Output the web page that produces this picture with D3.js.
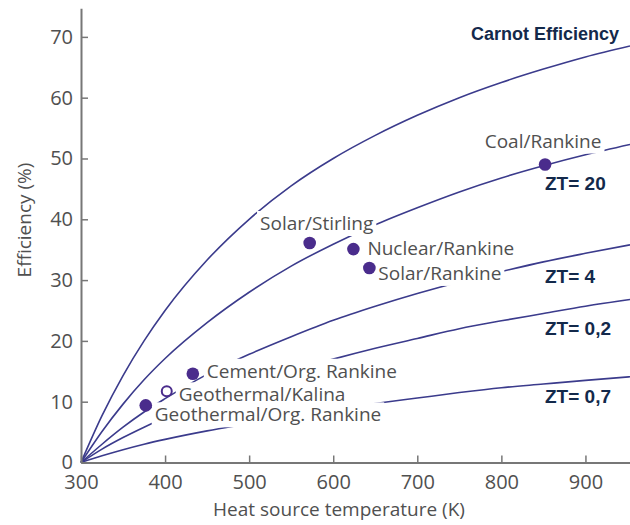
<!DOCTYPE html>
<html><head><meta charset="utf-8">
<script src="https://cdn.jsdelivr.net/npm/d3@7"></script>
<style>body{margin:0;background:#fff}</style>
</head><body>
<svg id="c" width="630" height="525"></svg>
<script>
// ---- data ----
const temps  = [300, 325, 350, 375, 400, 450, 500, 550, 600, 650, 700, 750, 800, 850, 900, 953];
const carnot = [0, 7.7, 14.3, 20.0, 25.0, 33.3, 40.0, 45.5, 50.0, 53.8, 57.1, 60.0, 62.5, 64.7, 66.7, 68.5];
const zt20   = [0, 5.1, 9.6, 13.6, 17.1, 23.0, 28.0, 32.3, 35.9, 39.1, 41.9, 44.5, 46.8, 48.8, 50.6, 52.3];
const zt4    = [0, 3.0, 5.8, 8.3, 10.5, 14.5, 17.8, 20.7, 23.4, 25.7, 27.8, 29.7, 31.4, 33.0, 34.4, 35.8];
const zt02   = [0, 2.2, 4.1, 5.8, 7.4, 10.2, 12.7, 15.0, 17.0, 18.8, 20.4, 22.0, 23.3, 24.5, 25.7, 26.8];
const zt07   = [0, 1.1, 2.1, 3.0, 3.8, 5.2, 6.4, 7.6, 8.7, 9.7, 10.6, 11.5, 12.3, 12.9, 13.5, 14.1];
const curveLabels = ["Carnot Efficiency", "ZT= 20", "ZT= 4", "ZT= 0,2", "ZT= 0,7"];

const pointNames  = ["Coal/Rankine", "Solar/Stirling", "Nuclear/Rankine", "Solar/Rankine",
                     "Cement/Org. Rankine", "Geothermal/Kalina", "Geothermal/Org. Rankine"];
const pointTemps  = [852, 572, 624, 643, 433, 402, 377];
const pointEffs   = [49.0, 36.1, 35.1, 32.0, 14.6, 11.7, 9.4];
const pointHollow = [false, false, false, false, false, true, false];

const xTicks = [300, 400, 500, 600, 700, 800, 900];
const yTicks = [0, 10, 20, 30, 40, 50, 60, 70];
const xTitle = "Heat source temperature (K)";
const yTitle = "Efficiency (%)";

// ---- layout ----
const svg = d3.select("#c");
const x = d3.scaleLinear().domain([300, 953]).range([81, 630]);
const y = d3.scaleLinear().domain([0, 74.7]).range([462.5, 8.3]);

const lineColor = "#3b3b8c", dotColor = "#4a2c8c", grayText = "#505050", navy = "#13294b";
const sans = "'Open Sans', 'Noto Sans', sans-serif";

// curves
const series = [carnot, zt20, zt4, zt02, zt07];
const line = d3.line().x((d, i) => x(temps[i])).y(d => y(d)).curve(d3.curveMonotoneX);
svg.append("g").selectAll("path").data(series).join("path")
  .attr("d", d => line(d)).attr("fill", "none")
  .attr("stroke", lineColor).attr("stroke-width", 1.6);

// axes
const ax = svg.append("g").attr("transform", `translate(0,${y(0)})`)
  .call(d3.axisBottom(x).tickValues(xTicks).tickSize(-7).tickSizeOuter(0).tickPadding(12.3));
const ay = svg.append("g").attr("transform", `translate(${x(300)},0)`)
  .call(d3.axisLeft(y).tickValues(yTicks).tickSize(-7).tickSizeOuter(0).tickPadding(8));
[ax, ay].forEach(g => {
  g.select(".domain").attr("stroke", "#777").attr("stroke-width", 2);
  g.selectAll(".tick line").attr("stroke", "#777").attr("stroke-width", 1.5);
  g.selectAll(".tick text").attr("fill", grayText).attr("font-family", sans).attr("font-size", 20);
});

// axis titles
svg.append("text").attr("x", 339).attr("y", 516).attr("text-anchor", "middle")
  .attr("font-family", sans).attr("font-size", 19).attr("fill", grayText).text(xTitle);
svg.append("text").attr("transform", "translate(31,220) rotate(-90)").attr("text-anchor", "middle")
  .attr("font-family", sans).attr("font-size", 19).attr("fill", grayText).text(yTitle);

// point labels with white backing (they break the curves like in the reference)
const labelOffsets = [[-2, -17, "middle"], [7, -13, "middle"], [14, 6, "start"], [9, 12, "start"],
                      [14, 4, "start"], [12, 10, "start"], [9, 16, "start"]];
const lg = svg.append("g");
pointNames.forEach((n, i) => {
  const o = labelOffsets[i];
  const g = lg.append("g");
  const t = g.append("text").attr("x", x(pointTemps[i]) + o[0]).attr("y", y(pointEffs[i]) + o[1])
    .attr("text-anchor", o[2]).attr("font-family", sans).attr("font-size", 19)
    .attr("fill", grayText).text(n);
  const b = t.node().getBBox();
  g.insert("rect", "text").attr("x", b.x - 3).attr("y", b.y + 1).attr("width", b.width + 6)
    .attr("height", b.height - 1).attr("fill", "#fff");
});

// curve labels
const curveLabelPos = [[619, 40, "end"], [545, 190, "start"], [545, 283, "start"], [545, 335, "start"], [545, 403, "start"]];
curveLabels.forEach((n, i) => {
  const p = curveLabelPos[i];
  svg.append("text").attr("x", p[0]).attr("y", p[1]).attr("text-anchor", p[2])
    .attr("font-family", "'Liberation Sans', Arial, sans-serif").attr("font-weight", "bold")
    .attr("font-size", i === 0 ? 18 : 19).attr("fill", navy).text(n);
});

// points
svg.append("g").selectAll("circle").data(pointNames).join("circle")
  .attr("cx", (d, i) => x(pointTemps[i])).attr("cy", (d, i) => y(pointEffs[i]))
  .attr("r", (d, i) => pointHollow[i] ? 5 : 6.3)
  .attr("fill", (d, i) => pointHollow[i] ? "#fff" : dotColor)
  .attr("stroke", dotColor).attr("stroke-width", (d, i) => pointHollow[i] ? 2 : 0);
</script>
</body></html>
